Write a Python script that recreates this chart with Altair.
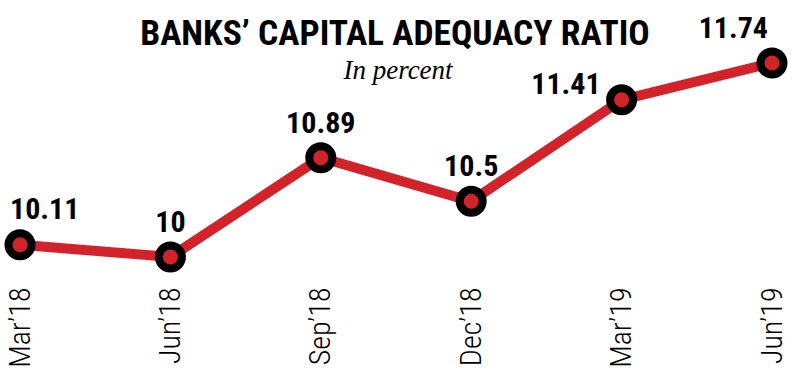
import altair as alt
import pandas as pd

periods = ["Mar’18", "Jun’18", "Sep’18", "Dec’18", "Mar’19", "Jun’19"]
values = [10.11, 10.0, 10.89, 10.5, 11.41, 11.74]
labels = ["10.11", "10", "10.89", "10.5", "11.41", "11.74"]
title_text = "BANKS’ CAPITAL ADEQUACY  RATIO"
subtitle_text = "In percent"

RED = "#d2232a"
COND = "Roboto Condensed"

df = pd.DataFrame({"period": periods, "value": values, "label": labels})

x_enc = alt.X(
    "period:N", sort=periods,
    scale=alt.Scale(type="point", padding=0),
    axis=alt.Axis(title=None, labelAngle=-90, labelFontSize=30, labelFont=COND,
                  labelFontWeight=300,
                  domain=False, ticks=False, labelPadding=30, labelColor="black",
                  grid=False),
)
y_enc = alt.Y("value:Q", scale=alt.Scale(domain=[10, 11.74], zero=False, nice=False), axis=None)

base = alt.Chart(df).encode(x=x_enc, y=y_enc)

line = base.mark_line(color=RED, strokeWidth=10, clip=False)
pts = base.mark_point(filled=True, fill=RED, stroke="black", strokeWidth=8, size=530,
                      opacity=1, clip=False)

txt_style = dict(fontSize=30, fontWeight="bold", font=COND, color="black", baseline="alphabetic")
lab_first = base.mark_text(align="left", dx=-10, dy=-26, **txt_style).encode(text="label:N").transform_filter(
    alt.datum.period == periods[0])
lab_mid = base.mark_text(align="center", dy=-25, **txt_style).encode(text="label:N").transform_filter(
    alt.FieldOneOfPredicate(field="period", oneOf=periods[1:4]))
lab_411 = base.mark_text(align="right", dx=-21, dy=-6, **txt_style).encode(text="label:N").transform_filter(
    alt.datum.period == periods[4])
lab_last = base.mark_text(align="right", dx=-4, dy=-25, **txt_style).encode(text="label:N").transform_filter(
    alt.datum.period == periods[5])

title = alt.Chart(pd.DataFrame({"t": [title_text]})).mark_text(
    font=COND, fontSize=35.5, fontWeight="bold", color="black", align="center", baseline="alphabetic"
).encode(text="t:N", x=alt.value(375), y=alt.value(-18))
subtitle = alt.Chart(pd.DataFrame({"t": [subtitle_text]})).mark_text(
    font="Liberation Serif", fontSize=27, fontStyle="italic", color="black", align="center",
    baseline="alphabetic"
).encode(text="t:N", x=alt.value(378), y=alt.value(16))

chart = alt.layer(line, pts, lab_first, lab_mid, lab_411, lab_last, title, subtitle).properties(
    width=752, height=194,
    autosize=alt.AutoSizeParams(type="none"),
    padding={"left": 20, "top": 63, "right": 28, "bottom": 119},
    background="white",
).configure_view(stroke=None)

chart.save("out.html", embed_options={"renderer": "svg", "actions": False})
